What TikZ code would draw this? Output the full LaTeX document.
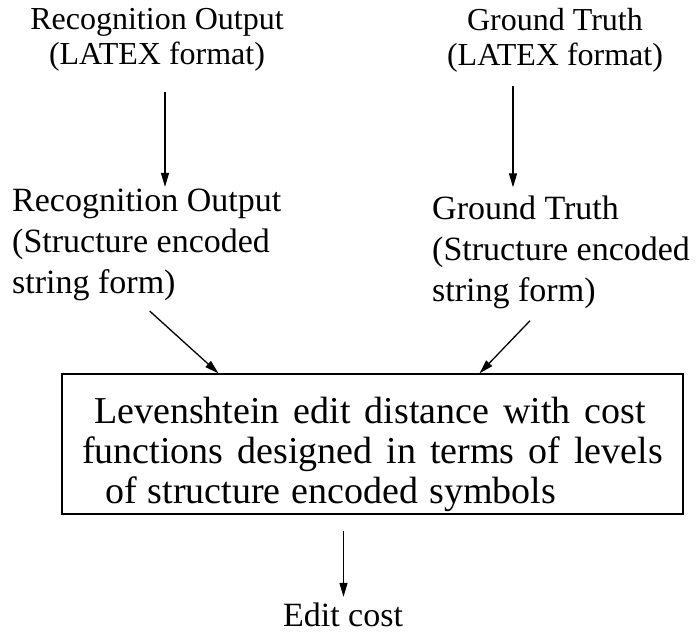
\documentclass[tikz,border=0pt]{standalone}
\usepackage{fontspec}
\setmainfont{Liberation Serif}
\usetikzlibrary{arrows.meta,positioning,calc}
\newcommand{\levfont}{\fontsize{38}{40}\selectfont\spaceskip=14pt plus 1pt\relax}

\begin{document}
\begin{tikzpicture}[x=1pt,y=-1pt,
  every node/.style={font=\fontsize{32}{35}\selectfont},
  txt/.style={inner sep=0pt,align=center},
  ltxt/.style={inner sep=0pt,align=left,anchor=west,font=\fontsize{34}{41}\selectfont},
  levbox/.style={draw,line width=1.3pt,minimum width=621pt,minimum height=140pt,inner sep=0pt,align=left,font=\levfont},
  arr/.style={line width=1.3pt,-{Triangle[length=14pt,width=8pt]}}]
\useasboundingbox (0,0) rectangle (699,633);

\node[txt] (recout) at (157,40) {Recognition Output\\(LATEX format)};
\node[txt] (gtruth) at (555,40) {Ground Truth\\(LATEX format)};

\node[ltxt] (recstr) at (12,245) {Recognition Output\\(Structure encoded\\string form)};
\node[ltxt] (gtstr) at (432,252) {Ground Truth\\(Structure encoded\\string form)};

\node[levbox] (lev) at (372.5,444) {\rule{0pt}{48pt}\hspace*{12pt}Levenshtein edit distance with cost\\functions designed in terms of levels\\\hspace*{23pt}{\spaceskip=11pt plus 1pt of structure encoded symbols}};
\node[txt,font=\fontsize{34}{40}\selectfont] (cost) at (343,615) {Edit cost};

% vertical connectors
\coordinate (la) at ($(recout.south)+(8,20)$);
\draw[arr] (la) -- ($(la |- recstr.north)+(0,-2)$);
\coordinate (ra) at ($(gtruth.south)+(-42,14)$);
\draw[arr] (ra) -- ($(ra |- gtstr.north)+(0,-8)$);

% into the box
\draw[arr] ($(recstr.south)+(3,10)$) -- ($(lev.north)+(-154,0)$);
\draw[arr] ($(gtstr.south)+(-31,12)$) -- ($(lev.north)+(107,0)$);

\coordinate (ba) at ($(lev.south)+(-29,16)$);
\draw[arr] (ba) -- ($(ba |- cost.north)+(0,-6)$);
\end{tikzpicture}
\end{document}
